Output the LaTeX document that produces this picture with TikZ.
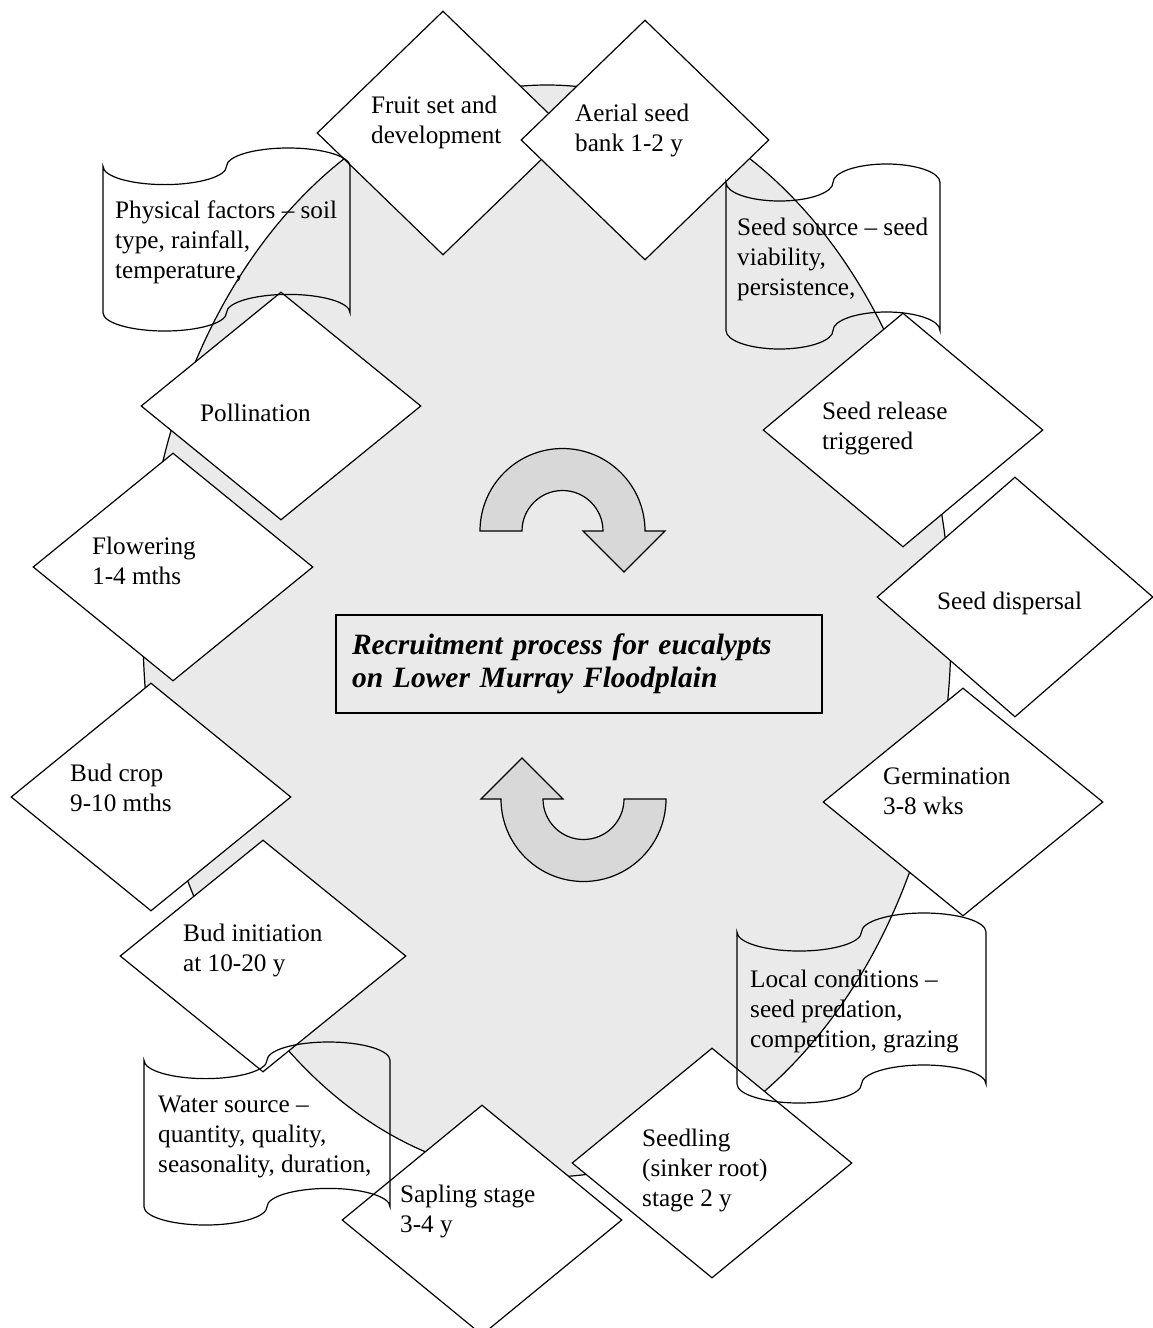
\documentclass[tikz,border=0pt]{standalone}
\usepackage{fontspec}
\setmainfont{Liberation Serif}
\usetikzlibrary{shapes.geometric}

\definecolor{plaingray}{RGB}{234,234,234}
\definecolor{arrowgray}{RGB}{216,216,216}

\tikzset{
  stage/.style={diamond, draw, fill=white, line width=1.2pt, inner sep=0pt,
    minimum width=280pt, minimum height=228pt},
  txt/.style={anchor=base west, inner sep=0pt, align=left,
    font=\fontsize{25.2}{30}\selectfont},
  tapeline/.style={line width=1.2pt},
  turnarrow/.style={draw, fill=arrowgray, line width=1.2pt}
}

% punched tape: left x, top y, width, height
\newcommand{\tapebox}[4]{%
  \draw[tapeline] (#1,{#2+0.1*#4})
    arc[start angle=180, end angle=0, x radius={#3/4}, y radius={0.1*#4}]
    arc[start angle=180, end angle=360, x radius={#3/4}, y radius={0.1*#4}]
    -- ({#1+#3},{#2+0.9*#4})
    arc[start angle=0, end angle=-180, x radius={#3/4}, y radius={0.1*#4}]
    arc[start angle=0, end angle=180, x radius={#3/4}, y radius={0.1*#4}]
    -- cycle;}

\begin{document}
\begin{tikzpicture}[x=1pt, y=-1pt]
  \useasboundingbox (0,0) rectangle (1153,1328);
  \clip (0,0) rectangle (1153,1328);
  % the cycle
  \draw[fill=plaingray, line width=1.2pt] (547,631) ellipse [x radius=404, y radius=546];
  % turning arrows
  \draw[turnarrow] (480,531) arc[start angle=180, end angle=360, radius=82.5]
    -- (665,531) -- (624,572) -- (583,531) -- (603,531)
    arc[start angle=0, end angle=-180, radius=40.5] -- cycle;
  \draw[turnarrow, rotate around={180:(573,665)}] (480,531) arc[start angle=180, end angle=360, radius=82.5]
    -- (665,531) -- (624,572) -- (583,531) -- (603,531)
    arc[start angle=0, end angle=-180, radius=40.5] -- cycle;
  \node[draw, line width=1.2pt, minimum height=98pt, text width=454pt, inner xsep=16pt,
    inner ysep=0pt, align=left, font=\fontsize{29.5}{33}\selectfont\bfseries\itshape]
    (title) at (579,664) {Recruitment process for eucalypts\\on Lower Murray Floodplain};
  % stages
  \node[stage, minimum width=252pt, minimum height=244pt] (fruit) at (443,133) {};
  \node[stage, minimum width=248pt, minimum height=240pt] (aerial) at (645,140) {};
  \node[stage] (pollination) at (281,406) {};
  \node[stage, minimum height=234pt] (release) at (903,430) {};
  \node[stage] (flowering) at (173,567) {};
  \node[stage, minimum width=276pt, minimum height=240pt] (dispersal) at (1015,597) {};
  \node[stage] (budcrop) at (151,797) {};
  \node[stage] (germination) at (963,802) {};
  \node[stage, minimum width=286pt, minimum height=232pt] (budinit) at (263,956) {};
  \node[stage, minimum height=230pt] (seedling) at (712,1163) {};
  \node[stage, minimum height=230pt] (sapling) at (482,1220) {};
  % factors
  \tapebox{103}{148}{247}{183}
  \tapebox{726}{164}{214}{185}
  \tapebox{737}{913}{249}{190}
  \tapebox{144}{1042}{246}{183}
  % texts (base = last line)
  \node[txt] (fruittext) at (371,143) {Fruit set and\\development};
  \node[txt] (aerialtext) at (575,151) {Aerial seed\\bank 1-2 y};
  \node[txt] (physicaltext) at (115,278) {Physical factors – soil\\type, rainfall,\\temperature,};
  \node[txt] (sourcetext) at (737,295) {Seed source – seed\\viability,\\persistence,};
  \node[txt] (pollinationtext) at (200,421) {Pollination};
  \node[txt] (releasetext) at (822,449) {Seed release\\triggered};
  \node[txt] (floweringtext) at (92,584) {Flowering\\1-4 mths};
  \node[txt] (dispersaltext) at (937,609) {Seed dispersal};
  \node[txt] (budcroptext) at (70,811) {Bud crop\\9-10 mths};
  \node[txt] (germinationtext) at (883,814) {Germination\\3-8 wks};
  \node[txt] (budinittext) at (183,971) {Bud initiation\\at 10-20 y};
  \node[txt] (localtext) at (750,1047) {Local conditions –\\seed predation,\\competition, grazing};
  \node[txt] (watertext) at (158,1172) {Water source –\\quantity, quality,\\seasonality, duration,};
  \node[txt] (seedlingtext) at (642,1206) {Seedling\\(sinker root)\\stage 2 y};
  \node[txt] (saplingtext) at (400,1232) {Sapling stage\\3-4 y};
\end{tikzpicture}
\end{document}
